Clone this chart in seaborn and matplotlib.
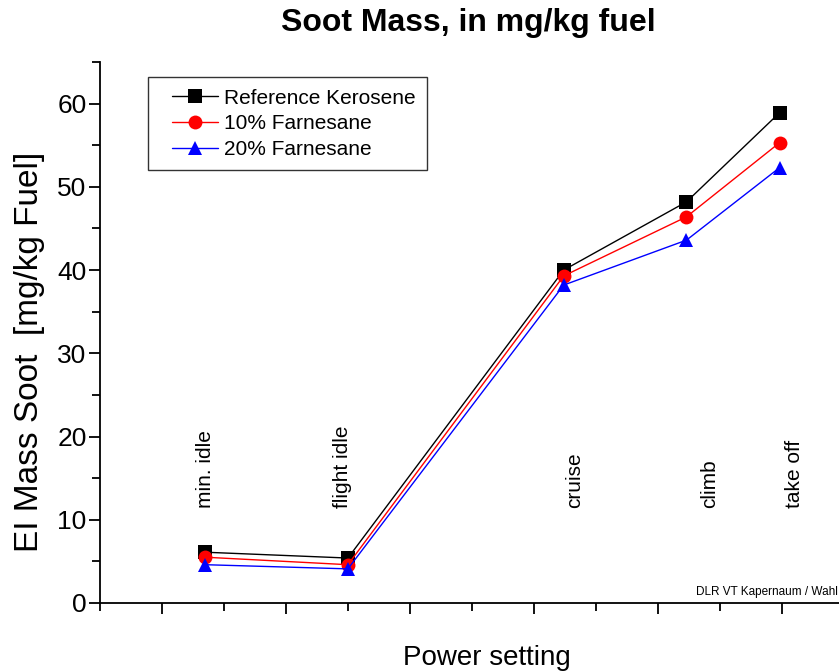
import matplotlib
matplotlib.use("Agg")
import matplotlib.pyplot as plt
import seaborn as sns
import pandas as pd
import numpy as np
from matplotlib.ticker import MultipleLocator, NullFormatter
from matplotlib.legend_handler import HandlerLine2D
from matplotlib.lines import Line2D

# --- data ---
settings = ["min. idle", "flight idle", "cruise", "climb", "take off"]
x_pos = [1.35, 2.50, 4.24, 5.23, 5.98]
series = ["Reference Kerosene", "10% Farnesane", "20% Farnesane"]
kerosene = [6.1, 5.4, 40.0, 48.2, 58.9]
farn10 = [5.5, 4.6, 39.3, 46.4, 55.3]
farn20 = [4.6, 4.1, 38.2, 43.6, 52.3]
label_x = [1.35, 2.46, 4.33, 5.42, 6.10]
label_y = 11.4

df = pd.DataFrame({
    "x": x_pos * 3,
    "y": kerosene + farn10 + farn20,
    "fuel": [s for s in series for _ in x_pos],
})

sns.set_theme(style="ticks")
plt.rcParams['font.family'] = ['Liberation Sans', 'DejaVu Sans']
plt.rcParams['text.color'] = 'black'
plt.rcParams['axes.labelcolor'] = 'black'
plt.rcParams['xtick.color'] = 'black'
plt.rcParams['ytick.color'] = 'black'

fig = plt.figure(figsize=(8.39, 6.72), dpi=100)
ax = fig.add_axes([0.119, 0.1027, 0.884, 0.805])

palette = {"Reference Kerosene": "black", "10% Farnesane": "red", "20% Farnesane": "blue"}
markers = {"Reference Kerosene": "s", "10% Farnesane": "o", "20% Farnesane": "^"}
sns.lineplot(data=df, x="x", y="y", hue="fuel", style="fuel", palette=palette,
             markers=markers, dashes=False, markersize=10, linewidth=1,
             markeredgewidth=0, ax=ax, hue_order=series, style_order=series)

ax.set_xlim(0.5, 6.48)
ax.set_ylim(0, 65)
ax.xaxis.set_major_locator(MultipleLocator(1))
ax.xaxis.set_minor_locator(MultipleLocator(0.5))
ax.xaxis.set_major_formatter(NullFormatter())
ax.yaxis.set_major_locator(MultipleLocator(10))
ax.yaxis.set_minor_locator(MultipleLocator(5))
ax.tick_params(axis='both', which='major', direction='out', length=8, width=1.3,
               colors='black', labelsize=19, labelcolor='black', pad=1.5)
ax.tick_params(axis='both', which='minor', direction='out', length=6, width=1.3, colors='black')
for s in ["top", "right"]:
    ax.spines[s].set_visible(False)
for s in ["left", "bottom"]:
    ax.spines[s].set_linewidth(1.3)
    ax.spines[s].set_color("black")

for name, lx in zip(settings, label_x):
    ax.text(lx, label_y, name, rotation=90, ha="center", va="bottom", fontsize=15, color="black")

ax.set_xlabel("Power setting", fontsize=20, color="black")
ax.xaxis.set_label_coords(0.522, -0.077)
ax.set_ylabel("EI Mass Soot  [mg/kg Fuel]", fontsize=24, color="black")
ax.yaxis.set_label_coords(-0.074, 0.465)
fig.text(0.558, 0.966, "Soot Mass, in mg/kg fuel", ha="center", va="center",
         fontsize=23, fontweight="bold", color="black")
fig.text(0.999, 0.119, "DLR VT Kapernaum / Wahl", ha="right", va="center", fontsize=8.5, color="black")

handles, labels = ax.get_legend_handles_labels()
leg = ax.legend(handles, labels, loc="upper left", bbox_to_anchor=(0.065, 0.972), fontsize=15,
                frameon=True, fancybox=False, handlelength=2.8, borderpad=0.55,
                labelspacing=0.32, handletextpad=0.3, borderaxespad=0,
                handler_map={Line2D: HandlerLine2D(xpad=0.6)})
leg.get_frame().set_edgecolor("black")
leg.get_frame().set_linewidth(1.0)
for t in leg.get_texts():
    t.set_color("black")

fig.savefig("out.png", dpi=100)
